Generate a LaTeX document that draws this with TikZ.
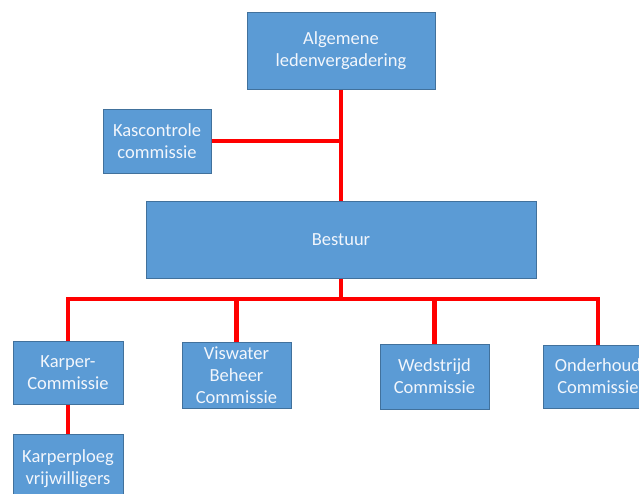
\documentclass[tikz,border=0pt]{standalone}
\usepackage{fontspec}
\setmainfont{Carlito}
\definecolor{boxfill}{HTML}{5B9BD5}
\definecolor{boxline}{HTML}{41719C}
\definecolor{boxtext}{HTML}{F2F6FC}
\begin{document}
\begin{tikzpicture}[x=1pt,y=-1pt,
  box/.style={draw=boxline, line width=1pt, fill=boxfill, text=boxtext, align=center,
    font=\fontsize{18.5}{22}\selectfont, inner sep=0pt},
  conn/.style={draw=red, line width=4.5pt, line join=miter}]
\clip (0,0) rectangle (639,493);
\useasboundingbox (0,0) rectangle (639,493);
\fill[white] (0,0) rectangle (639,493);
\coordinate (bus) at (341,299);
\node[box, minimum width=188pt, minimum height=77pt] (alg) at (341,50.5) {Algemene\\ledenvergadering};
\node[box, minimum width=108pt, minimum height=64pt] (kas) at (157,141) {Kascontrole\\commissie};
\node[box, minimum width=390pt, minimum height=77pt] (best) at (341,239.5) {Bestuur};
\node[box, minimum width=110pt, minimum height=63pt] (karper) at (68,372.5) {Karper-\\Commissie};
\node[box, minimum width=109pt, minimum height=66pt] (vis) at (236.5,375) {Viswater\\Beheer\\Commissie};
\node[box, minimum width=109pt, minimum height=65pt] (wed) at (434.5,376.5) {Wedstrijd\\Commissie};
\node[box, minimum width=110pt, minimum height=63pt] (ond) at (598,376.5) {Onderhoud\\Commissie};
\node[box, minimum width=110pt, minimum height=70pt] (ploeg) at (68,469) {Karperploeg\\vrijwilligers};
\draw[conn] (alg.south) -- (best.north);
\draw[conn] (kas.east) -- (kas.east -| alg.south);
\draw[conn] (best.south) -- (bus);
\draw[conn] (karper.north) -- (karper.north |- bus) -- (ond.north |- bus) -- (ond.north);
\draw[conn] (vis.north) -- (vis.north |- bus);
\draw[conn] (wed.north) -- (wed.north |- bus);
\draw[conn] (karper.south) -- (ploeg.north);
\end{tikzpicture}
\end{document}
